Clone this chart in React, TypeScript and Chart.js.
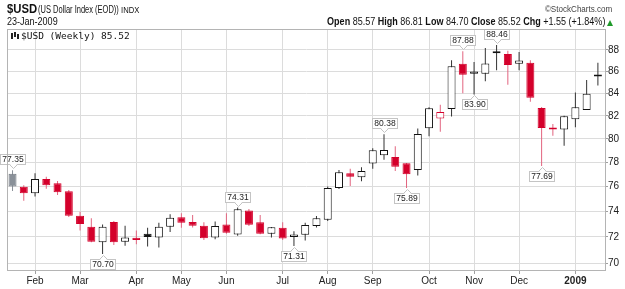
import React, { useEffect, useRef } from 'react';
import { Chart, registerables } from 'chart.js';

Chart.register(...registerables);

// Weekly candles, week of 21-Jan-2008 (index 0) to week of 19-Jan-2009 (index 52)
const opens = [
  77.05, 75.98, 75.46, 76.62, 76.27, 75.62, 73.66, 72.8, 71.6, 73.17,
  71.64, 71.95, 72.26, 71.97, 72.8, 73.55, 73.17, 72.88, 71.97, 72.98,
  72.2, 74.07, 73.14, 72.26, 72.71, 72.0, 72.18, 72.85, 73.35, 75.89,
  77.1, 76.76, 77.9, 78.6, 78.45, 77.93, 77.36, 80.9, 81.75, 82.6,
  86.7, 85.77, 85.77, 87.69, 87.62, 86.7, 86.79, 82.68, 80.98, 80.79,
  81.7, 82.52, 85.57,
];
const highs = [
  77.35, 76.1, 77.1, 76.81, 76.46, 75.72, 73.98, 73.46, 72.98, 73.25,
  72.88, 72.5, 72.71, 73.1, 73.78, 73.86, 73.72, 73.14, 73.2, 73.86,
  74.31, 74.2, 73.72, 72.78, 73.14, 72.45, 73.1, 73.64, 76.0, 77.36,
  77.47, 77.59, 79.19, 80.38, 79.36, 77.95, 80.88, 82.75, 82.97, 87.04,
  87.88, 86.86, 88.19, 88.46, 87.93, 87.81, 87.04, 82.77, 81.27, 82.0,
  84.07, 85.2, 86.81,
];
const lows = [
  75.65, 74.85, 75.19, 75.83, 75.32, 73.57, 72.5, 71.6, 70.7, 71.39,
  71.33, 71.45, 71.26, 71.2, 72.38, 72.71, 72.73, 71.77, 71.82, 72.26,
  72.1, 72.85, 72.22, 71.97, 71.77, 71.31, 71.72, 72.73, 73.25, 75.8,
  76.05, 76.43, 77.47, 78.23, 77.28, 75.89, 76.92, 80.22, 80.6, 81.93,
  84.0, 83.9, 85.1, 86.1, 84.78, 86.1, 83.25, 77.69, 80.26, 79.4,
  81.0, 82.5, 84.7,
];
const closes = [
  76.0, 75.45, 76.62, 76.1, 75.54, 73.66, 73.01, 71.64, 72.8, 71.6,
  71.97, 71.77, 72.0, 72.8, 73.51, 73.1, 72.87, 71.9, 72.85, 72.33,
  74.17, 72.95, 72.26, 72.75, 71.88, 72.2, 72.93, 73.46, 75.89, 77.18,
  76.81, 77.28, 79.02, 79.05, 77.63, 77.02, 80.42, 82.66, 82.34, 86.48,
  85.7, 85.98, 86.73, 87.88, 86.58, 87.0, 83.6, 80.93, 80.8, 81.96,
  82.75, 83.97, 85.52,
];

const monthTickIdx = [2, 6, 11, 15, 19, 24, 28, 32, 37, 41, 45, 50];
const monthTickLabels = ['Feb', 'Mar', 'Apr', 'May', 'Jun', 'Jul', 'Aug', 'Sep', 'Oct', 'Nov', 'Dec', '2009'];
const yTickValues = [70, 71, 72, 73, 74, 75, 76, 77, 78, 79, 80, 81, 82, 83, 84, 85, 86, 87, 88, 89];
const yLabelValues = [70, 72, 74, 76, 78, 80, 82, 84, 86, 88];

const calloutIdx = [0, 8, 20, 25, 33, 35, 40, 41, 43, 47];
const calloutKind = ['high', 'low', 'high', 'low', 'high', 'low', 'high', 'low', 'high', 'low'];

const RED = '#d4002b';
const RED_WICK = '#e2647f';
const BLACK = '#111111';
const GRAY = '#8a9199';
const GRAY_EDGE = '#737a82';
const FONT = '"Liberation Sans", Arial, sans-serif';

function candleColor(i: number) {
  if (i === 0) return 'gray';
  return closes[i] >= closes[i - 1] ? 'black' : 'red';
}

const calloutPlugin = {
  id: 'callouts',
  afterDatasetsDraw(chart: any) {
    const ctx = chart.ctx;
    const xs = chart.scales.x;
    const ys = chart.scales.y;
    ctx.save();
    ctx.font = `8.5px ${FONT}`;
    ctx.lineWidth = 1;
    calloutIdx.forEach((i, k) => {
      const kind = calloutKind[k];
      const v = kind === 'high' ? highs[i] : lows[i];
      const txt = v.toFixed(2);
      const x = xs.getPixelForValue(i);
      const y = ys.getPixelForValue(v);
      const w = Math.round(ctx.measureText(txt).width + 4);
      const h = 10;
      const bx = Math.round(x - w / 2) + 0.5;
      const by = kind === 'high' ? Math.round(y - 6 - h) + 0.5 : Math.round(y + 5) + 0.5;
      ctx.fillStyle = '#ffffff';
      ctx.strokeStyle = '#c4c4c4';
      ctx.fillRect(bx, by, w, h);
      ctx.strokeRect(bx, by, w, h);
      const edgeY = kind === 'high' ? by + h : by;
      const tipY = kind === 'high' ? edgeY + 4 : edgeY - 4;
      const cx = Math.round(x) + 0.5;
      ctx.beginPath();
      ctx.moveTo(cx - 4, edgeY);
      ctx.lineTo(cx, tipY);
      ctx.lineTo(cx + 4, edgeY);
      ctx.closePath();
      ctx.fill();
      ctx.beginPath();
      ctx.moveTo(cx - 4, edgeY);
      ctx.lineTo(cx, tipY);
      ctx.lineTo(cx + 4, edgeY);
      ctx.stroke();
      ctx.fillStyle = '#ffffff';
      ctx.fillRect(cx - 3, kind === 'high' ? edgeY - 1 : edgeY - 0.5, 6, 1.5);
      ctx.fillStyle = '#222222';
      ctx.textAlign = 'center';
      ctx.textBaseline = 'middle';
      ctx.fillText(txt, bx + w / 2, by + h / 2 + 0.5);
    });
    ctx.restore();
  },
};

const framePlugin = {
  id: 'frame',
  afterDraw(chart: any) {
    const { ctx, chartArea } = chart;
    ctx.save();
    ctx.strokeStyle = '#b4b4b4';
    ctx.lineWidth = 1;
    ctx.strokeRect(
      Math.round(chartArea.left) + 0.5,
      Math.round(chartArea.top) + 0.5,
      Math.round(chartArea.right - chartArea.left) - 1,
      Math.round(chartArea.bottom - chartArea.top) - 1
    );
    ctx.restore();
  },
};

function Txt(props: {
  x?: number; right?: number; y: number; size: number; bold?: boolean; sx?: number;
  color?: string; family?: string; children: React.ReactNode;
}) {
  const { x, right, y, size, bold, sx = 1, color = '#111', family = FONT, children } = props;
  const style: React.CSSProperties = {
    position: 'absolute',
    top: y,
    fontFamily: family,
    fontSize: size,
    fontWeight: bold ? 'bold' : 'normal',
    lineHeight: 1,
    color,
    whiteSpace: 'nowrap',
    transform: `scaleX(${sx})`,
    transformOrigin: right !== undefined ? 'right top' : 'left top',
  };
  if (right !== undefined) style.right = right;
  else style.left = x;
  return <div style={style}>{children}</div>;
}

export default function App() {
  const ref = useRef<HTMLCanvasElement | null>(null);

  useEffect(() => {
    if (!ref.current) return;
    const idx = closes.map((_, i) => i);
    const colors = idx.map(candleColor);
    const bodyFill = idx.map((i) => {
      const c = colors[i];
      const filled = closes[i] < opens[i];
      if (!filled) return '#ffffff';
      return c === 'gray' ? GRAY : c === 'red' ? RED : BLACK;
    });
    const bodyEdge = idx.map((i) => {
      const c = colors[i];
      return c === 'gray' ? GRAY_EDGE : c === 'red' ? RED : BLACK;
    });
    const wickColor = idx.map((i) => {
      const c = colors[i];
      return c === 'gray' ? GRAY : c === 'red' ? RED_WICK : '#333333';
    });

    const chart = new Chart(ref.current, {
      type: 'bar',
      data: {
        datasets: [
          {
            label: 'body',
            data: idx.map((i) => ({ x: i, y: [opens[i], closes[i]] })) as any,
            backgroundColor: bodyFill,
            borderColor: bodyEdge,
            borderWidth: 1,
            borderSkipped: false,
            barThickness: 8,
            minBarLength: 2,
            grouped: false,
            inflateAmount: 0,
            order: 1,
          } as any,
          {
            label: 'wick',
            data: idx.map((i) => ({ x: i, y: [lows[i], highs[i]] })) as any,
            backgroundColor: wickColor,
            borderWidth: 0,
            barThickness: 1,
            grouped: false,
            inflateAmount: 0,
            order: 2,
          } as any,
        ],
      },
      options: {
        responsive: false,
        animation: false,
        events: [],
        layout: { padding: { left: 7, top: 29, right: 0, bottom: 0 } },
        plugins: { legend: { display: false }, tooltip: { enabled: false } },
        scales: {
          x: {
            type: 'linear',
            offset: false,
            min: -0.49,
            max: 52.72,
            afterBuildTicks: (s: any) => {
              s.ticks = monthTickIdx.map((v) => ({ value: v }));
            },
            afterFit: (s: any) => {
              s.height = 18;
            },
            grid: { offset: false, color: '#dcdcdc', tickColor: '#a0a0a0', tickLength: 3 },
            border: { display: false },
            ticks: {
              autoSkip: false,
              maxRotation: 0,
              padding: 1,
              color: '#222',
              font: (c: any) => ({
                family: FONT,
                size: 10,
                weight: c.tick && c.tick.value === 50 ? 'bold' : 'normal',
              }),
              callback: (v: any) => {
                const k = monthTickIdx.indexOf(Number(v));
                return k >= 0 ? monthTickLabels[k] : '';
              },
            },
          },
          y: {
            type: 'logarithmic',
            position: 'right',
            min: 69.42,
            max: 90.0,
            afterBuildTicks: (s: any) => {
              s.ticks = yTickValues.map((v) => ({ value: v }));
            },
            afterFit: (s: any) => {
              s.width = 19;
            },
            grid: {
              color: (c: any) =>
                c.tick && yLabelValues.indexOf(c.tick.value) >= 0 ? '#dcdcdc' : 'rgba(0,0,0,0)',
              tickColor: '#a0a0a0',
              tickLength: 2,
            },
            border: { display: false },
            ticks: {
              padding: 0,
              color: '#222',
              font: { family: FONT, size: 10 },
              callback: (v: any) => (yLabelValues.indexOf(Number(v)) >= 0 ? String(v) : ''),
            },
          },
        },
      } as any,
      plugins: [calloutPlugin, framePlugin],
    });
    return () => chart.destroy();
  }, []);

  return (
    <div
      style={{
        position: 'fixed',
        left: 0,
        top: 0,
        width: 625,
        height: 289,
        background: '#ffffff',
        overflow: 'hidden',
      }}
    >
      <canvas ref={ref} width={625} height={289} style={{ position: 'absolute', left: 0, top: 0 }} />
      <Txt x={7} y={2} size={13} bold sx={0.87}>$USD</Txt>
      <Txt x={38} y={4.5} size={10} sx={0.75}>(US Dollar Index (EOD))</Txt>
      <Txt x={121} y={5.5} size={9} sx={0.85}>INDX</Txt>
      <Txt right={13} y={4} size={9.5} sx={0.85} color="#444">©StockCharts.com</Txt>
      <Txt x={7} y={15.5} size={11} sx={0.82}>23-Jan-2009</Txt>
      <Txt right={20} y={15.5} size={11} sx={0.82}>
        <b>Open</b> 85.57 <b>High</b> 86.81 <b>Low</b> 84.70 <b>Close</b> 85.52 <b>Chg</b> +1.55 (+1.84%)
      </Txt>
      <div
        style={{
          position: 'absolute',
          left: 607,
          top: 19.5,
          width: 0,
          height: 0,
          borderLeft: '3.5px solid transparent',
          borderRight: '3.5px solid transparent',
          borderBottom: '6px solid #1f9a2a',
        }}
      />
      <div style={{ position: 'absolute', left: 10, top: 32, width: 9, height: 7 }}>
        <div style={{ position: 'absolute', left: 1, top: 1, width: 2, height: 6, background: '#222' }} />
        <div style={{ position: 'absolute', left: 4, top: 0, width: 2, height: 5, background: '#222' }} />
        <div style={{ position: 'absolute', left: 7, top: 2, width: 2, height: 5, background: '#222' }} />
      </div>
      <Txt x={21} y={31} size={9.5} family='"DejaVu Sans Mono", monospace' color="#111">
        $USD (Weekly) 85.52
      </Txt>
    </div>
  );
}
